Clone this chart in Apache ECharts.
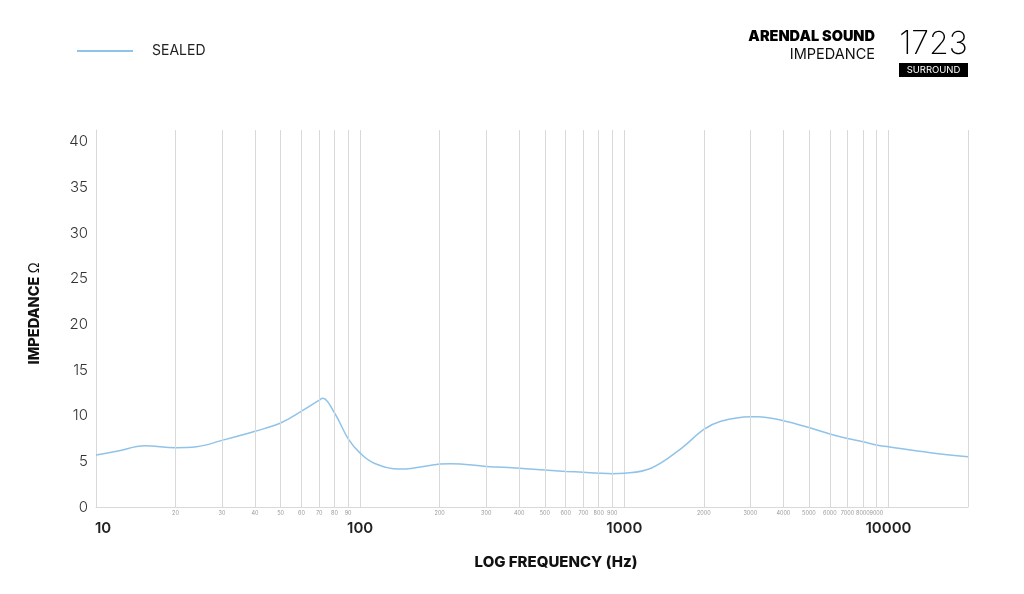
<!DOCTYPE html>
<html>
<head>
<meta charset="utf-8">
<script src="https://cdn.jsdelivr.net/npm/echarts@6/dist/echarts.min.js"></script>
<style>html,body{margin:0;padding:0;background:#fff}#c{width:1024px;height:594px}</style>
</head>
<body>
<div id="c"></div>
<script>
const FONT = "Inter, 'Open Sans', sans-serif";
const seriesName = 'SEALED';
const freq = [10, 12, 15.3, 20, 24, 30, 40, 50, 60, 70, 72, 80, 90, 100, 113, 142, 200, 220, 300, 400, 500, 600, 700, 800, 900, 1000, 1262, 1640, 2000, 2320, 3000, 3200, 4000, 5000, 6000, 7000, 8000, 9000, 10000, 14400, 20000];
const impedance = [5.7, 6.1, 6.7, 6.5, 6.6, 7.3, 8.3, 9.2, 10.5, 11.7, 11.9, 10.3, 7.5, 5.9, 4.8, 4.15, 4.7, 4.75, 4.45, 4.25, 4.05, 3.9, 3.8, 3.7, 3.65, 3.7, 4.25, 6.4, 8.5, 9.4, 9.9, 9.9, 9.45, 8.7, 8.0, 7.5, 7.15, 6.8, 6.6, 5.95, 5.5];
const majorTicks = [10, 100, 1000, 10000];
const minorTicks = [20, 30, 40, 50, 60, 70, 80, 90, 200, 300, 400, 500, 600, 700, 800, 900, 2000, 3000, 4000, 5000, 6000, 7000, 8000, 9000];
const yTicks = [0, 5, 10, 15, 20, 25, 30, 35, 40];

const chart = echarts.init(document.getElementById('c'));
const GRID = '#d9d9d9';
chart.setOption({
  animation: false,
  textStyle: {fontFamily: FONT},
  legend: {
    data: [{name: seriesName, icon: 'rect'}], left: 77, top: 44, padding: 0, itemWidth: 56, itemHeight: 2, itemGap: 10,
    textStyle: {color: '#222', fontSize: 14, fontFamily: FONT, padding: [0, 0, 0, 14]}
  },
  grid: {left: 96, right: 56, top: 130, bottom: 87},
  xAxis: {
    type: 'log', logBase: 10, min: 10, max: 20000,
    name: 'LOG FREQUENCY (Hz)', nameLocation: 'middle', nameGap: 48,
    nameTextStyle: {fontWeight: 800, fontSize: 15, color: '#111', padding: [0, 0, 0, 48]},
    axisLine: {show: true, lineStyle: {color: GRID}},
    axisTick: {show: false},
    splitLine: {show: true, lineStyle: {color: GRID, width: 1}},
    axisLabel: {
      margin: 14, color: '#222', fontSize: 15, fontWeight: 600,
      formatter: function (v) {
        const r = Math.round(v);
        if (majorTicks.indexOf(r) < 0) return '';
        return r === 10 ? '{first|10}' : String(r);
      },
      rich: {first: {fontSize: 15, fontWeight: 600, color: '#222', padding: [0, 0, 0, 14]}}
    }
  },
  yAxis: {
    type: 'value', min: 0, max: 41.3, interval: 5,
    name: '{b|IMPEDANCE} {n|Ω}', nameLocation: 'middle', nameGap: 54, nameRotate: 90,
    nameTextStyle: {rich: {b: {fontWeight: 800, fontSize: 14.5, color: '#111', fontFamily: FONT}, n: {fontSize: 14, color: '#111', fontFamily: FONT}}, padding: [0, 0, 0, 10]},
    axisLine: {show: true, lineStyle: {color: GRID}},
    axisTick: {show: false},
    splitLine: {show: false},
    axisLabel: {
      color: '#333', fontSize: 15, fontWeight: 300, margin: 8,
      formatter: function (v) { return yTicks.indexOf(Math.round(v * 10) / 10) >= 0 ? String(v) : ''; }
    }
  },
  series: [
    {
      type: 'line', name: '__grid', data: [], z: 1, silent: true,
      markLine: {
        silent: true, symbol: 'none', animation: false,
        lineStyle: {color: GRID, width: 1, type: 'solid'},
        label: {show: true, position: 'start', distance: 3, color: '#999', fontSize: 5.5, formatter: function (p) { return String(p.value); }},
        emphasis: {disabled: true},
        data: minorTicks.map(v => ({xAxis: v}))
      }
    },
    {
      type: 'line', name: seriesName, z: 3,
      data: freq.map((f, i) => [f, impedance[i]]),
      smooth: 0.4, symbol: 'none',
      lineStyle: {color: '#90c3ea', width: 1.5},
      itemStyle: {color: '#90c3ea'}
    }
  ],
  graphic: [
    {type: 'text', style: {x: 875, y: 37, text: 'ARENDAL SOUND', textAlign: 'right', textVerticalAlign: 'middle', font: "900 14.5px " + FONT, fill: '#000'}},
    {type: 'text', style: {x: 875, y: 55, text: 'IMPEDANCE', textAlign: 'right', textVerticalAlign: 'middle', font: "400 14.5px " + FONT, fill: '#111'}},
    {type: 'text', style: {x: 933.5, y: 44, text: '1723', textAlign: 'center', textVerticalAlign: 'middle', font: "200 32px " + FONT, fill: '#000'}},
    {type: 'rect', shape: {x: 899, y: 63, width: 69, height: 14}, style: {fill: '#000'}},
    {type: 'text', style: {x: 933.5, y: 70.5, text: 'SURROUND', textAlign: 'center', textVerticalAlign: 'middle', font: "400 9.5px " + FONT, fill: '#fff'}}
  ]
});
</script>
</body>
</html>
